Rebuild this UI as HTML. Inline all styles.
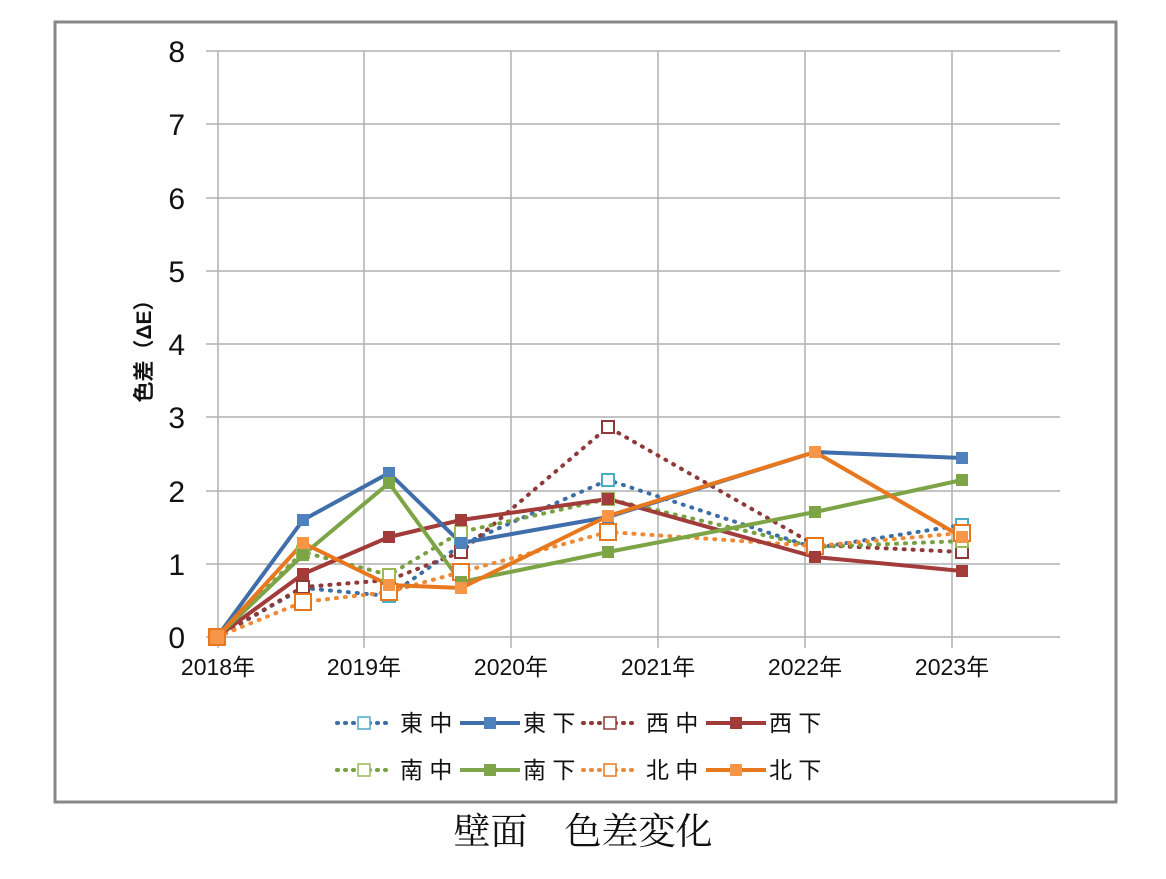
<!DOCTYPE html>
<html><head><meta charset="utf-8"><style>
body{margin:0;background:#fff;width:1166px;height:874px;overflow:hidden}
</style></head><body>
<svg width="1166" height="874" viewBox="0 0 1166 874" xmlns="http://www.w3.org/2000/svg" font-family="'Liberation Sans','Noto Sans CJK JP',sans-serif">
<rect x="55" y="22" width="1061" height="780" fill="#fff" stroke="#888" stroke-width="3"/>
<g stroke="#b0b0b0" stroke-width="1.5">
<line x1="206" y1="51" x2="1060" y2="51"/><line x1="206" y1="124" x2="1060" y2="124"/>
<line x1="206" y1="198" x2="1060" y2="198"/><line x1="206" y1="271" x2="1060" y2="271"/>
<line x1="206" y1="344" x2="1060" y2="344"/><line x1="206" y1="417" x2="1060" y2="417"/>
<line x1="206" y1="491" x2="1060" y2="491"/><line x1="206" y1="564" x2="1060" y2="564"/>
<line x1="206" y1="637" x2="1060" y2="637"/>
<line x1="218" y1="51" x2="218" y2="648"/><line x1="364" y1="51" x2="364" y2="648"/>
<line x1="511" y1="51" x2="511" y2="648"/><line x1="658" y1="51" x2="658" y2="648"/>
<line x1="805" y1="51" x2="805" y2="648"/><line x1="952" y1="51" x2="952" y2="648"/>
</g>
<g font-size="30" fill="#111" text-anchor="end">
<text x="185" y="62">8</text><text x="185" y="135">7</text><text x="185" y="209">6</text>
<text x="185" y="282">5</text><text x="185" y="355">4</text><text x="185" y="428">3</text>
<text x="185" y="502">2</text><text x="185" y="575">1</text><text x="185" y="648">0</text>
</g>
<g font-size="23" fill="#111" text-anchor="middle">
<text x="218" y="675">2018年</text><text x="364" y="675">2019年</text><text x="511" y="675">2020年</text>
<text x="658" y="675">2021年</text><text x="805" y="675">2022年</text><text x="952" y="675">2023年</text>
</g>
<text transform="translate(151,346) rotate(-90)" font-size="21" font-weight="bold" text-anchor="middle" fill="#111">色差（ΔE）</text>

<g fill="none" stroke-linejoin="round">
<polyline points="217,637 303,588 389,596 461,545 608,480 815,548 962,525" stroke="#3C6FA8" stroke-width="4" stroke-dasharray="1 8" stroke-linecap="round"/>
<polyline points="217,637 303,587 389,580 461,552 608,427 815,545 962,552" stroke="#8F3A38" stroke-width="4" stroke-dasharray="1 8" stroke-linecap="round"/>
<polyline points="217,637 303,552 389,575 461,532 608,499 815,547 962,541" stroke="#77A043" stroke-width="4" stroke-dasharray="1 8" stroke-linecap="round"/>
<polyline points="217,637 303,602 389,592 461,572 608,532 815,546 962,533" stroke="#EE8A35" stroke-width="4" stroke-dasharray="1 8" stroke-linecap="round"/>
<polyline points="217,637 303,574 389,537 461,520 608,499 815,557 962,571" stroke="#A23C3A" stroke-width="4"/>
<polyline points="217,637 303,520 389,473 461,543 608,517 815,452 962,458" stroke="#3F6EAA" stroke-width="4"/>
<polyline points="217,637 303,555 389,483 461,582 608,552 815,512 962,480" stroke="#7DA446" stroke-width="4"/>
<polyline points="217,637 303,543 389,585 461,588 608,516 815,452 962,537" stroke="#E8781E" stroke-width="4"/>
</g>
<g fill="#fff" stroke-width="2">
<g stroke="#4BACC6"><rect x="297" y="582" width="12" height="12"/><rect x="383" y="590" width="12" height="12"/><rect x="455" y="539" width="12" height="12"/><rect x="602" y="474" width="12" height="12"/><rect x="809" y="542" width="12" height="12"/><rect x="956" y="519" width="12" height="12"/></g>
<g stroke="#8F3A38"><rect x="297" y="581" width="12" height="12"/><rect x="383" y="574" width="12" height="12"/><rect x="455" y="546" width="12" height="12"/><rect x="602" y="421" width="12" height="12"/><rect x="809" y="539" width="12" height="12"/><rect x="956" y="546" width="12" height="12"/></g>
<g stroke="#9BBB59"><rect x="297" y="546" width="12" height="12"/><rect x="383" y="569" width="12" height="12"/><rect x="455" y="526" width="12" height="12"/><rect x="602" y="493" width="12" height="12"/><rect x="809" y="541" width="12" height="12"/><rect x="956" y="535" width="12" height="12"/></g>
<g stroke="#E8781E"><rect x="295" y="594" width="16" height="16"/><rect x="381" y="584" width="16" height="16"/><rect x="453" y="564" width="16" height="16"/><rect x="600" y="524" width="16" height="16"/><rect x="807" y="538" width="16" height="16"/><rect x="954" y="525" width="16" height="16"/></g>
</g>
<g fill="#A23C3A"><rect x="297" y="568" width="12" height="12"/><rect x="383" y="531" width="12" height="12"/><rect x="455" y="514" width="12" height="12"/><rect x="602" y="493" width="12" height="12"/><rect x="809" y="551" width="12" height="12"/><rect x="956" y="565" width="12" height="12"/></g>
<g fill="#4F81BD"><rect x="297" y="514" width="12" height="12"/><rect x="383" y="467" width="12" height="12"/><rect x="455" y="537" width="12" height="12"/><rect x="602" y="511" width="12" height="12"/><rect x="809" y="446" width="12" height="12"/><rect x="956" y="452" width="12" height="12"/></g>
<g fill="#7DA446"><rect x="297" y="549" width="12" height="12"/><rect x="383" y="477" width="12" height="12"/><rect x="455" y="576" width="12" height="12"/><rect x="602" y="546" width="12" height="12"/><rect x="809" y="506" width="12" height="12"/><rect x="956" y="474" width="12" height="12"/></g>
<g fill="#F79646"><rect x="297" y="537" width="12" height="12"/><rect x="383" y="579" width="12" height="12"/><rect x="455" y="582" width="12" height="12"/><rect x="602" y="510" width="12" height="12"/><rect x="809" y="446" width="12" height="12"/><rect x="956" y="531" width="12" height="12"/></g>
<rect x="209" y="629" width="16" height="16" fill="#F79646" stroke="#E8781E" stroke-width="2"/>

<g stroke-width="4" fill="none">
<line x1="337" y1="723" x2="390" y2="723" stroke="#3C6FA8" stroke-dasharray="1 7" stroke-linecap="round"/>
<line x1="460" y1="723" x2="520" y2="723" stroke="#3F6EAA"/>
<line x1="583" y1="723" x2="636" y2="723" stroke="#8F3A38" stroke-dasharray="1 7" stroke-linecap="round"/>
<line x1="706" y1="723" x2="766" y2="723" stroke="#A23C3A"/>
<line x1="337" y1="770" x2="390" y2="770" stroke="#77A043" stroke-dasharray="1 7" stroke-linecap="round"/>
<line x1="460" y1="770" x2="520" y2="770" stroke="#7DA446"/>
<line x1="583" y1="770" x2="636" y2="770" stroke="#EE8A35" stroke-dasharray="1 7" stroke-linecap="round"/>
<line x1="706" y1="770" x2="766" y2="770" stroke="#E8781E"/>
</g>
<g fill="#fff" stroke-width="1.5">
<rect x="358" y="717" width="12" height="12" stroke="#4BACC6"/><rect x="604" y="717" width="12" height="12" stroke="#8F3A38"/>
<rect x="358" y="764" width="12" height="12" stroke="#9BBB59"/><rect x="604" y="764" width="12" height="12" stroke="#E8781E"/>
</g>
<rect x="484" y="717" width="12" height="12" fill="#4F81BD"/><rect x="730" y="717" width="12" height="12" fill="#A23C3A"/>
<rect x="484" y="764" width="12" height="12" fill="#7DA446"/><rect x="730" y="764" width="12" height="12" fill="#F79646"/>
<g font-size="23" fill="#111">
<text x="400" y="731">東 中</text><text x="523" y="731">東 下</text><text x="646" y="731">西 中</text><text x="769" y="731">西 下</text>
<text x="400" y="778">南 中</text><text x="523" y="778">南 下</text><text x="646" y="778">北 中</text><text x="769" y="778">北 下</text>
</g>
<text x="583" y="844" font-size="37" text-anchor="middle" fill="#111" font-family="'Liberation Serif','Noto Serif CJK SC',serif">壁面　色差変化</text>
</svg>
</body></html>
